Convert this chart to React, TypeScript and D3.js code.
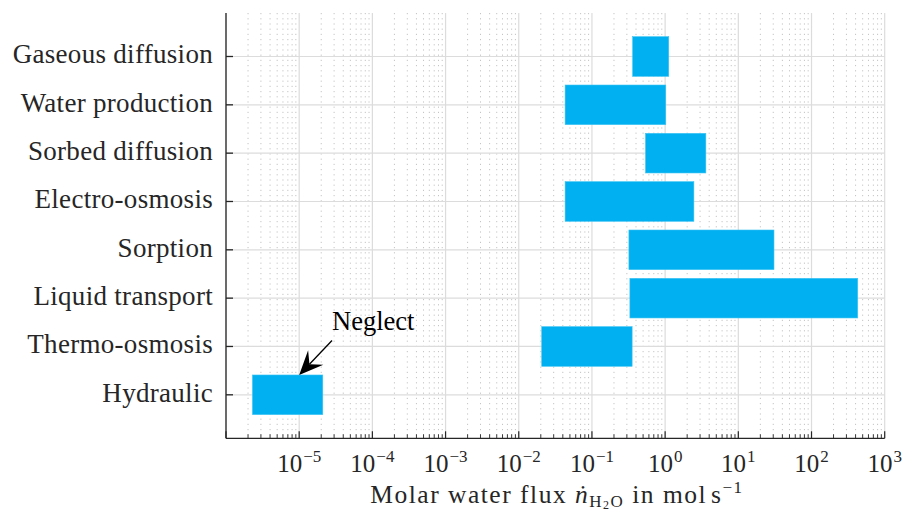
import React from "react";
import * as d3 from "d3";

const categories = [
  "Gaseous diffusion",
  "Water production",
  "Sorbed diffusion",
  "Electro-osmosis",
  "Sorption",
  "Liquid transport",
  "Thermo-osmosis",
  "Hydraulic",
];
const fluxMin = [0.36, 0.043, 0.54, 0.043, 0.32, 0.33, 0.0206, 2.3e-6];
const fluxMax = [1.12, 1.02, 3.6, 2.47, 30.7, 428, 0.354, 2.1e-5];
const tickExponents = [-5, -4, -3, -2, -1, 0, 1, 2, 3];

const W = 904;
const H = 514;
const left = 226;
const right = 884.7;
const top = 13;
const bottom = 438.3;
const FONT = "'Liberation Serif', serif";
const BLUE = "#00b0f0";
const INK = "#262626";

export default function App() {
  const x = d3.scaleLog().domain([1e-6, 1e3]).range([left, right]);
  const y = d3
    .scaleLinear()
    .domain([0.1, categories.length + 0.9])
    .range([top, bottom]);
  const band = y(1) - y(0);
  const barH = band * 0.82;

  const minor: number[] = [];
  for (let e = -6; e < 3; e++) {
    for (let m = 2; m <= 9; m++) minor.push(m * Math.pow(10, e));
  }
  const major = d3.range(-6, 4).map((e) => Math.pow(10, e));

  // "Neglect" arrow pointing at the top of the Hydraulic bar
  const target = { x: x(1e-5), y: y(8) - barH / 2 };
  const tail = { x: 332, y: 340.5 };
  const ang = Math.atan2(target.y - tail.y, target.x - tail.x);
  const hl = 24;
  const hw = 10.5;
  const cos = Math.cos(ang);
  const sin = Math.sin(ang);
  const back = { x: target.x - hl * cos, y: target.y - hl * sin };
  const notch = { x: target.x - hl * 0.62 * cos, y: target.y - hl * 0.62 * sin };
  const px = -sin;
  const py = cos;
  const head = [
    [target.x, target.y],
    [back.x + hw * px, back.y + hw * py],
    [notch.x, notch.y],
    [back.x - hw * px, back.y - hw * py],
  ];

  return (
    <svg width={W} height={H} style={{ position: "absolute", left: 0, top: 0, background: "#fff" }}>
      <rect x={0} y={0} width={W} height={H} fill="#fff" />
      {/* minor grid */}
      {minor.map((v, i) => (
        <line
          key={"mg" + i}
          x1={x(v)}
          x2={x(v)}
          y1={top}
          y2={bottom}
          stroke="#c4c4c4"
          strokeWidth={1}
          strokeDasharray="1.2 4"
        />
      ))}
      {/* major grid */}
      {major.map((v, i) => (
        <line key={"Mg" + i} x1={x(v)} x2={x(v)} y1={top} y2={bottom} stroke="#dcdcdc" strokeWidth={1.2} />
      ))}
      {categories.map((c, i) => (
        <line key={"hg" + i} x1={left} x2={right} y1={y(i + 1)} y2={y(i + 1)} stroke="#dcdcdc" strokeWidth={1.2} />
      ))}
      {/* bars */}
      {categories.map((c, i) => (
        <rect
          key={"b" + i}
          x={x(fluxMin[i])}
          y={y(i + 1) - barH / 2}
          width={x(fluxMax[i]) - x(fluxMin[i])}
          height={barH}
          fill={BLUE}
          stroke="#3cc4f4"
          strokeWidth={0.6}
        />
      ))}
      {/* axes */}
      <line x1={left} x2={left} y1={top} y2={bottom} stroke={INK} strokeWidth={1.3} />
      <line x1={left} x2={right} y1={bottom} y2={bottom} stroke={INK} strokeWidth={1.3} />
      {categories.map((c, i) => (
        <g key={"yt" + i}>
          <line x1={left} x2={left + 7} y1={y(i + 1)} y2={y(i + 1)} stroke={INK} strokeWidth={1.3} />
          <text
            x={left - 13}
            y={y(i + 1) + 6.8}
            textAnchor="end"
            fontFamily={FONT}
            fontSize={27}
            letterSpacing={0.3}
            fill={INK}
          >
            {c}
          </text>
        </g>
      ))}
      {major.map((v, i) => (
        <line key={"xt" + i} x1={x(v)} x2={x(v)} y1={bottom} y2={bottom - 7} stroke={INK} strokeWidth={1.2} />
      ))}
      {minor.map((v, i) => (
        <line key={"xm" + i} x1={x(v)} x2={x(v)} y1={bottom} y2={bottom - 4} stroke={INK} strokeWidth={0.9} />
      ))}
      {tickExponents.map((e) => (
        <text
          key={"tl" + e}
          x={x(Math.pow(10, e))}
          y={472}
          textAnchor="middle"
          fontFamily={FONT}
          fontSize={25}
          fill={INK}
        >
          10
          <tspan dy={-10} dx={1} fontSize={17}>
            {e < 0 ? "\u2212" + Math.abs(e) : String(e)}
          </tspan>
        </text>
      ))}
      {/* x label */}
      <text
        x={557}
        y={503}
        textAnchor="middle"
        fontFamily={FONT}
        fontSize={25.5}
        letterSpacing={1.5}
        fill={INK}
      >
        Molar water flux{" "}
        <tspan fontStyle="italic">{"\u1E45"}</tspan>
        <tspan dy={4} fontSize={17}>H</tspan>
        <tspan dy={2} fontSize={12}>2</tspan>
        <tspan dy={-2} fontSize={17}>O</tspan>
        <tspan dy={-4}> in mol</tspan>
        <tspan dx={4}>s</tspan>
        <tspan dy={-10} fontSize={17}>{"\u22121"}</tspan>
      </text>
      {/* annotation */}
      <line x1={tail.x} y1={tail.y} x2={notch.x} y2={notch.y} stroke="#000" strokeWidth={1.3} />
      <polygon points={head.map((p) => p.join(",")).join(" ")} fill="#000" />
      <text x={332} y={330} fontFamily={FONT} fontSize={26.5} fill="#000">
        Neglect
      </text>
    </svg>
  );
}
